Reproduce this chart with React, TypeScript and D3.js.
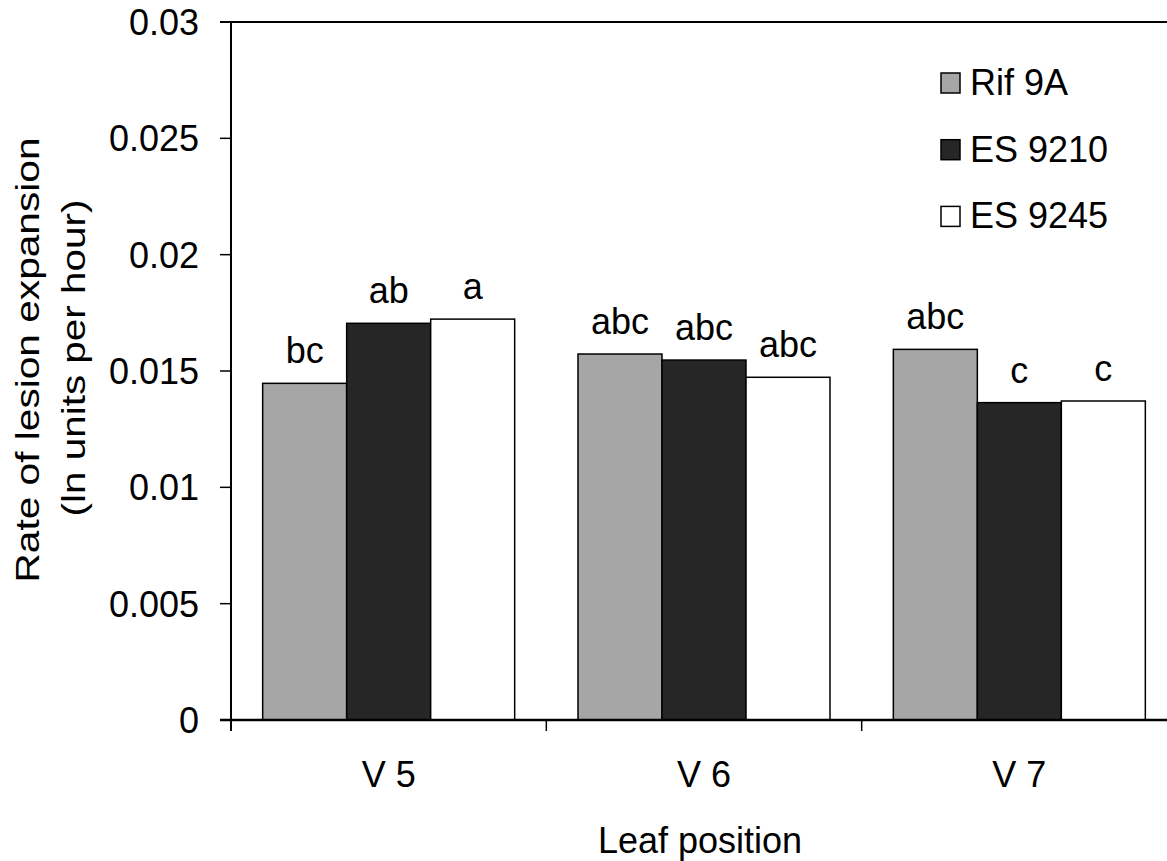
import React from "react";
import * as d3 from "d3";

const categories = ["V 5", "V 6", "V 7"];
const seriesNames = ["Rif 9A", "ES 9210", "ES 9245"];
const seriesColors = ["#a6a6a6", "#262626", "#ffffff"];
const rif9A = [0.01447, 0.01573, 0.01593];
const es9210 = [0.01705, 0.01547, 0.01364];
const es9245 = [0.01723, 0.01473, 0.01371];
const seriesValues = [rif9A, es9210, es9245];
const rif9ALetters = ["bc", "abc", "abc"];
const es9210Letters = ["ab", "abc", "c"];
const es9245Letters = ["a", "abc", "c"];
const seriesLetters = [rif9ALetters, es9210Letters, es9245Letters];
const yTicks = [0, 0.005, 0.01, 0.015, 0.02, 0.025, 0.03];
const yTickLabels = ["0", "0.005", "0.01", "0.015", "0.02", "0.025", "0.03"];

const W = 1167;
const H = 861;
const FONT = "'Liberation Sans', Arial, Helvetica, sans-serif";

export default function App() {
  const left = 231;
  const right = 1177;
  const top = 22;
  const bottom = 720;
  const x0 = d3.scaleBand<string>().domain(categories).range([left, right]).paddingInner(0).paddingOuter(0);
  const x1 = d3
    .scaleBand<string>()
    .domain(seriesNames)
    .range([0, x0.bandwidth()])
    .paddingInner(0)
    .paddingOuter(0.377);
  const y = d3.scaleLinear().domain([0, 0.03]).range([bottom, top]);
  const fs = 36;

  return (
    <svg
      width={W}
      height={H}
      style={{ position: "absolute", left: 0, top: 0, display: "block", background: "#fff" }}
      fontFamily={FONT}
    >
      <rect x={0} y={0} width={W} height={H} fill="#fff" />
      {/* bars */}
      {categories.map((c, ci) =>
        seriesNames.map((s, si) => {
          const v = seriesValues[si][ci];
          const bx = (x0(c) as number) + (x1(s) as number);
          const bw = x1.bandwidth();
          return (
            <g key={c + s}>
              <rect
                x={bx}
                y={y(v)}
                width={bw}
                height={y(0) - y(v)}
                fill={seriesColors[si]}
                stroke="#000"
                strokeWidth={1.5}
              />
              <text x={bx + bw / 2} y={y(v) - 20} textAnchor="middle" fontSize={fs} fill="#000">
                {seriesLetters[si][ci]}
              </text>
            </g>
          );
        })
      )}
      {/* top border */}
      <line x1={220} x2={W} y1={top} y2={top} stroke="#000" strokeWidth={2} />
      {/* y axis */}
      <line x1={left} x2={left} y1={top} y2={bottom + 11} stroke="#000" strokeWidth={2} />
      {yTicks.map((t, i) => (
        <g key={t}>
          <line x1={left - 11} x2={left} y1={y(t)} y2={y(t)} stroke="#000" strokeWidth={1.5} />
          <text x={199} y={y(t) + 13} textAnchor="end" fontSize={fs} fill="#000">
            {yTickLabels[i]}
          </text>
        </g>
      ))}
      {/* x axis */}
      <line x1={left - 11} x2={W} y1={bottom} y2={bottom} stroke="#000" strokeWidth={2.5} />
      {categories.map((c) => (
        <g key={c}>
          <line
            x1={(x0(c) as number) + x0.bandwidth()}
            x2={(x0(c) as number) + x0.bandwidth()}
            y1={bottom}
            y2={bottom + 11}
            stroke="#000"
            strokeWidth={1.5}
          />
          <text
            x={(x0(c) as number) + x0.bandwidth() / 2}
            y={787}
            textAnchor="middle"
            fontSize={fs}
            fill="#000"
          >
            {c}
          </text>
        </g>
      ))}
      <text x={700} y={853} textAnchor="middle" fontSize={fs} fill="#000">
        Leaf position
      </text>
      {/* y title */}
      <text
        transform={`translate(39,360) rotate(-90)`}
        textAnchor="middle"
        fontSize={33}
        fill="#000"
        textLength={445}
        lengthAdjust="spacingAndGlyphs"
      >
        Rate of lesion expansion
      </text>
      <text
        transform={`translate(85,358) rotate(-90)`}
        textAnchor="middle"
        fontSize={33}
        fill="#000"
        textLength={317}
        lengthAdjust="spacingAndGlyphs"
      >
        (ln units per hour)
      </text>
      {/* legend */}
      {seriesNames.map((s, i) => (
        <g key={s} transform={`translate(941,${73 + i * 66.7})`}>
          <rect x={0} y={0} width={19} height={20} fill={seriesColors[i]} stroke="#000" strokeWidth={1.5} />
          <text x={29} y={22} fontSize={fs} fill="#000">
            {s}
          </text>
        </g>
      ))}
    </svg>
  );
}
